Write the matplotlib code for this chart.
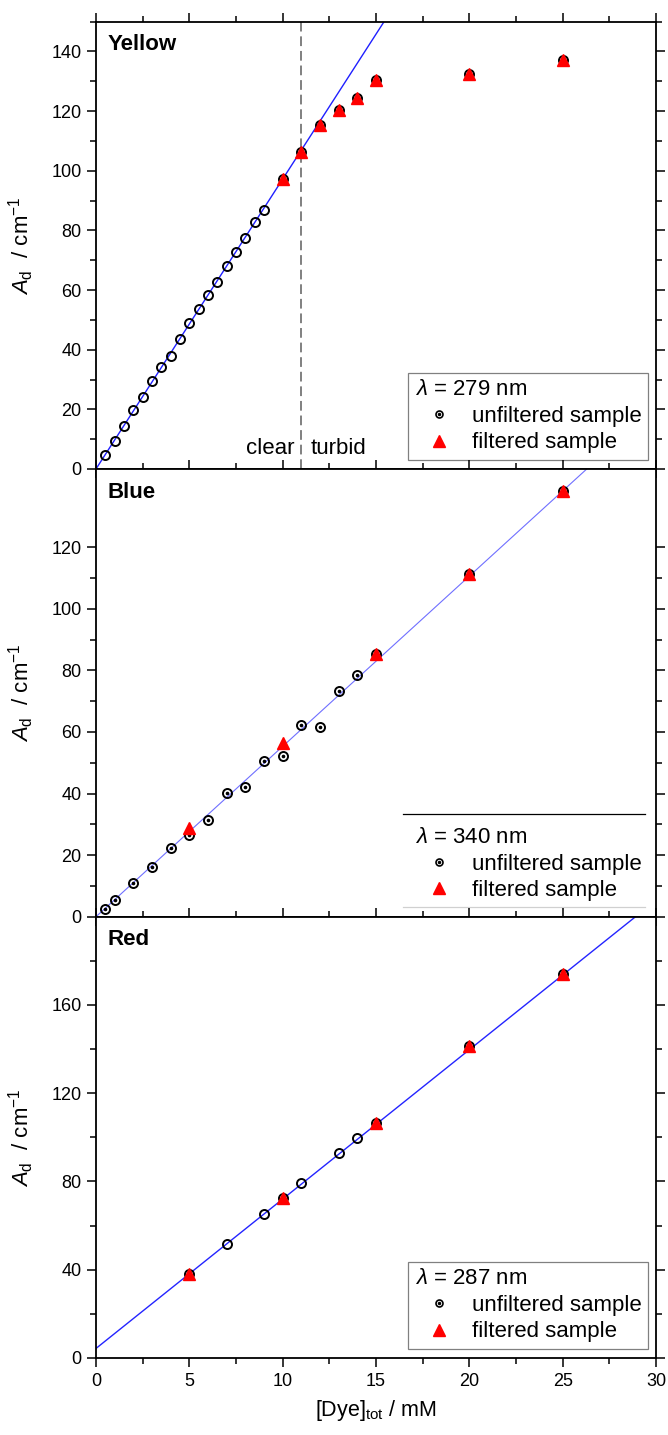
import matplotlib
matplotlib.use("Agg")
import matplotlib.pyplot as plt
from matplotlib.lines import Line2D
from matplotlib.legend_handler import HandlerTuple
from matplotlib.ticker import MultipleLocator, FixedLocator

plt.rcParams['font.family'] = ['Liberation Sans', 'DejaVu Sans']
plt.rcParams['mathtext.fontset'] = 'custom'
plt.rcParams['mathtext.rm'] = 'Liberation Sans'
plt.rcParams['mathtext.it'] = 'Liberation Sans:italic'
plt.rcParams['mathtext.bf'] = 'Liberation Sans:bold'

# Yellow, lambda = 279 nm
yellow_x_unf = [0.5, 1, 1.5, 2, 2.5, 3, 3.5, 4, 4.5, 5, 5.5, 6, 6.5, 7, 7.5, 8, 8.5, 9,
                10, 11, 12, 13, 14, 15, 20, 25]
yellow_y_unf = [4.7, 9.4, 14.5, 19.9, 24.2, 29.6, 34.3, 37.9, 43.7, 48.8, 53.7, 58.4, 62.8,
                68.2, 72.8, 77.5, 82.8, 87.0, 97.4, 106.2, 115.3, 120.3, 124.5, 130.3, 132.6, 137.0]
yellow_x_fil = [10, 11, 12, 13, 14, 15, 20, 25]
yellow_y_fil = [97.4, 106.2, 115.3, 120.3, 124.5, 130.3, 132.6, 137.0]
yellow_fit = (9.72, 0.0)   # slope, intercept

# Blue, lambda = 340 nm
blue_x_unf = [0.5, 1, 2, 3, 4, 5, 6, 7, 8, 9, 10, 11, 12, 13, 14, 15, 20, 25]
blue_y_unf = [2.4, 5.4, 10.8, 16.2, 22.2, 26.5, 31.4, 40.3, 42.2, 50.5, 52.2, 62.4, 61.6,
              73.3, 78.6, 85.2, 111.2, 138.2]
blue_x_fil = [5, 10, 15, 20, 25]
blue_y_fil = [28.9, 56.4, 85.2, 111.2, 138.2]
blue_fit = (5.53, 0.0)

# Red, lambda = 287 nm
red_x_unf = [5, 7, 9, 10, 11, 13, 14, 15, 20, 25]
red_y_unf = [38.1, 51.8, 65.1, 72.4, 79.1, 92.7, 99.5, 106.7, 141.3, 174.2]
red_x_fil = [5, 10, 15, 20, 25]
red_y_fil = [38.1, 72.4, 106.7, 141.3, 174.2]
red_fit = (6.77, 4.3)

fit_x = [0, 30]

fig = plt.figure(figsize=(6.68, 14.35), dpi=100)
L, W = 0.1437, 0.8383
ax1 = fig.add_axes([L, 0.6732, W, 0.3117])
ax2 = fig.add_axes([L, 0.3612, W, 0.3120])
ax3 = fig.add_axes([L, 0.0537, W, 0.3075])

panels = [
    (ax1, 'Yellow', '279', yellow_x_unf, yellow_y_unf, yellow_x_fil, yellow_y_fil, yellow_fit, '#1f1fff', 1.0, False),
    (ax2, 'Blue', '340', blue_x_unf, blue_y_unf, blue_x_fil, blue_y_fil, blue_fit, '#6f6fff', 0.8, True),
    (ax3, 'Red', '287', red_x_unf, red_y_unf, red_x_fil, red_y_fil, red_fit, '#2424ff', 1.0, False),
]

for ax, name, lam, xu, yu, xf, yf, fit, lc, lw, dotted in panels:
    m, b = fit
    ax.plot(fit_x, [m * x + b for x in fit_x], color=lc, lw=lw, zorder=2)
    ax.plot(xu, yu, ls='none', marker='o', ms=6.5, mfc='none', mec='k', mew=1.4, zorder=3)
    if dotted:
        ax.plot(xu, yu, ls='none', marker='o', ms=1.6, mfc='k', mec='k', zorder=3)
    ax.plot(xf, yf, ls='none', marker='^', ms=9, color='#ff0000', mec='#ff0000', zorder=4)

    ax.text(0.02, 0.948, name, transform=ax.transAxes, fontsize=16, fontweight='bold',
            ha='left', va='center')
    ax.set_xlim(0, 30)
    ax.xaxis.set_major_locator(MultipleLocator(5))
    ax.xaxis.set_minor_locator(MultipleLocator(2.5))
    ax.tick_params(which='both', direction='out', top=True, right=True, width=1.1,
                   labelsize=13, pad=4)
    ax.tick_params(which='major', length=6.5)
    ax.tick_params(which='minor', length=4)
    for s in ax.spines.values():
        s.set_linewidth(1.3)
    ax.set_ylabel(r'$A_\mathrm{d}$  / cm$^{-1}$', fontsize=16)
    ax.yaxis.set_label_coords(-0.108, 0.5)

    h_unf = (Line2D([], [], ls='none', marker='o', ms=5, mfc='none', mec='k', mew=1.2),
             Line2D([], [], ls='none', marker='o', ms=1.5, mfc='k', mec='k'))
    h_fil = Line2D([], [], ls='none', marker='^', ms=8.5, color='#ff0000')
    leg = ax.legend([h_unf, h_fil], ['unfiltered sample', 'filtered sample'],
                    title=r'$\lambda$ = ' + lam + ' nm', title_fontsize=16, fontsize=16,
                    handler_map={tuple: HandlerTuple(ndivide=1, pad=0)},
                    loc='lower right', bbox_to_anchor=(0.986, 0.02), alignment='left',
                    frameon=(ax is not ax2), fancybox=False, edgecolor='#808080',
                    framealpha=1, borderpad=0.3, borderaxespad=0, handlelength=2.2,
                    handletextpad=0.35, labelspacing=0.25)
    leg.get_frame().set_linewidth(0.9)

# Yellow panel
ax1.set_ylim(0, 150)
ax1.yaxis.set_major_locator(MultipleLocator(20))
ax1.yaxis.set_minor_locator(MultipleLocator(10))
ax1.axvline(11, color='#808080', ls=(0, (5, 2.5)), lw=1.4, zorder=1)
ax1.text(10.65, 7.0, 'clear', fontsize=16, ha='right', va='center')
ax1.text(11.5, 7.0, 'turbid', fontsize=16, ha='left', va='center')
ax1.tick_params(labelbottom=False)

# Blue panel: legend drawn with only a top rule and a faint bottom rule
ax2.set_ylim(0, 145.4)
ax2.yaxis.set_major_locator(FixedLocator(range(0, 121, 20)))
ax2.yaxis.set_minor_locator(FixedLocator(range(10, 121, 10)))
ax2.plot([0.549, 0.98], [0.229, 0.229], color='k', lw=0.9, transform=ax2.transAxes, zorder=5)
ax2.plot([0.549, 0.98], [0.022, 0.022], color='#d0d0d0', lw=0.9, transform=ax2.transAxes, zorder=5)
ax2.tick_params(labelbottom=False)

# Red panel
ax3.set_ylim(0, 200)
ax3.yaxis.set_major_locator(FixedLocator(range(0, 161, 40)))
ax3.yaxis.set_minor_locator(FixedLocator(range(20, 181, 20)))
ax3.set_xlabel(r'[Dye]$_\mathrm{tot}$ / mM', fontsize=15.5, labelpad=6)

fig.savefig('out.png', dpi=100)
